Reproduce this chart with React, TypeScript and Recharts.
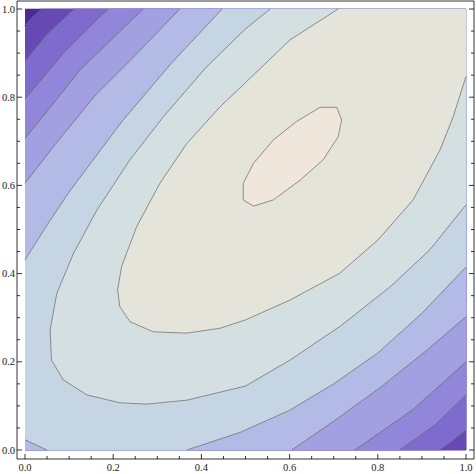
import React from 'react';
import { ScatterChart, Scatter, XAxis, YAxis } from 'recharts';

type P = { x: number; y: number };

// frame ticks
const ALL_TICKS = [0, 0.05, 0.1, 0.15, 0.2, 0.25, 0.3, 0.35, 0.4, 0.45, 0.5, 0.55, 0.6, 0.65, 0.7, 0.75, 0.8, 0.85, 0.9, 0.95, 1];
const MAJOR_TICKS = [0, 0.2, 0.4, 0.6, 0.8, 1];
const TICK_LABELS = ['0.0', '0.2', '0.4', '0.6', '0.8', '1.0'];

// band colours, lowest level (dark purple) to highest (cream)
const BAND_COLORS = ['#4c2b91', '#6649b3', '#7f6bcd', '#9286da', '#a2a0e1', '#b3bae5', '#c5d5e4', '#d4dfe1', '#e5e4da', '#efe7db'];

// contour lines (TL = top-left corner, BR = bottom-right, BL = bottom-left)
const L1_TL: P[] = [{ x: 0, y: 0.963 }, { x: 0.018, y: 0.983 }, { x: 0.038, y: 1 }];
const L2_TL: P[] = [{ x: 0, y: 0.882 }, { x: 0.05, y: 0.943 }, { x: 0.111, y: 1 }];
const L2_BR: P[] = [{ x: 0.941, y: 0 }, { x: 0.97, y: 0.021 }, { x: 1, y: 0.045 }];
const L3_TL: P[] = [{ x: 0, y: 0.796 }, { x: 0.09, y: 0.903 }, { x: 0.188, y: 1 }];
const L3_BR: P[] = [{ x: 0.85, y: 0 }, { x: 0.93, y: 0.057 }, { x: 1, y: 0.125 }];
const L4_TL: P[] = [{ x: 0, y: 0.707 }, { x: 0.06, y: 0.78 }, { x: 0.125, y: 0.862 }, { x: 0.268, y: 1 }];
const L4_BR: P[] = [{ x: 0.748, y: 0 }, { x: 0.88, y: 0.092 }, { x: 1, y: 0.2 }];
const L5_TL: P[] = [{ x: 0, y: 0.605 }, { x: 0.07, y: 0.695 }, { x: 0.16, y: 0.805 }, { x: 0.25, y: 0.895 }, { x: 0.351, y: 1 }];
const L5_BR: P[] = [{ x: 0.605, y: 0 }, { x: 0.7, y: 0.065 }, { x: 0.81, y: 0.145 }, { x: 0.91, y: 0.225 }, { x: 1, y: 0.302 }];
const L6_TL: P[] = [{ x: 0, y: 0.431 }, { x: 0.05, y: 0.51 }, { x: 0.1, y: 0.585 }, { x: 0.22, y: 0.745 }, { x: 0.33, y: 0.875 }, { x: 0.447, y: 1 }];
const L6_BL: P[] = [{ x: 0, y: 0.023 }, { x: 0.05, y: 0 }];
const L6_BR: P[] = [
  { x: 0.367, y: 0 }, { x: 0.488, y: 0.04 }, { x: 0.6, y: 0.09 }, { x: 0.7, y: 0.15 },
  { x: 0.8, y: 0.22 }, { x: 0.9, y: 0.31 }, { x: 1, y: 0.415 },
];
const L7: P[] = [
  { x: 0.556, y: 1 }, { x: 0.5, y: 0.955 }, { x: 0.412, y: 0.869 }, { x: 0.314, y: 0.756 },
  { x: 0.238, y: 0.658 }, { x: 0.163, y: 0.544 }, { x: 0.11, y: 0.446 }, { x: 0.072, y: 0.355 },
  { x: 0.057, y: 0.272 }, { x: 0.06, y: 0.204 }, { x: 0.087, y: 0.159 }, { x: 0.14, y: 0.125 },
  { x: 0.215, y: 0.107 }, { x: 0.276, y: 0.104 }, { x: 0.367, y: 0.113 }, { x: 0.5, y: 0.145 },
  { x: 0.601, y: 0.204 }, { x: 0.714, y: 0.28 }, { x: 0.828, y: 0.37 }, { x: 0.918, y: 0.454 },
  { x: 1, y: 0.556 },
];
const L8: P[] = [
  { x: 0.71, y: 1 }, { x: 0.601, y: 0.93 }, { x: 0.5, y: 0.833 }, { x: 0.442, y: 0.778 },
  { x: 0.367, y: 0.695 }, { x: 0.306, y: 0.605 }, { x: 0.253, y: 0.506 }, { x: 0.219, y: 0.416 },
  { x: 0.21, y: 0.363 }, { x: 0.215, y: 0.325 }, { x: 0.238, y: 0.291 }, { x: 0.291, y: 0.268 },
  { x: 0.367, y: 0.265 }, { x: 0.442, y: 0.276 }, { x: 0.5, y: 0.295 }, { x: 0.601, y: 0.34 },
  { x: 0.714, y: 0.401 }, { x: 0.8, y: 0.476 }, { x: 0.88, y: 0.567 }, { x: 0.941, y: 0.68 },
  { x: 0.971, y: 0.756 }, { x: 1, y: 0.847 },
];
const L9: P[] = [
  { x: 0.669, y: 0.777 }, { x: 0.707, y: 0.777 }, { x: 0.718, y: 0.748 }, { x: 0.71, y: 0.71 },
  { x: 0.676, y: 0.658 }, { x: 0.624, y: 0.612 }, { x: 0.563, y: 0.567 }, { x: 0.518, y: 0.553 },
  { x: 0.495, y: 0.567 }, { x: 0.495, y: 0.605 }, { x: 0.518, y: 0.65 }, { x: 0.563, y: 0.703 },
  { x: 0.616, y: 0.745 },
];

const rev = (a: P[]) => [...a].reverse();
const BL: P = { x: 0, y: 0 };
const BRc: P = { x: 1, y: 0 };
const TR: P = { x: 1, y: 1 };
const TLc: P = { x: 0, y: 1 };

// filled regions, painted from lowest level up
const FILLS: P[][] = [
  [BL, BRc, TR, TLc],
  [BL, BRc, TR, ...rev(L1_TL)],
  [BL, ...L2_BR, TR, ...rev(L2_TL)],
  [BL, ...L3_BR, TR, ...rev(L3_TL)],
  [BL, ...L4_BR, TR, ...rev(L4_TL)],
  [BL, ...L5_BR, TR, ...rev(L5_TL)],
  [...L6_BL, ...L6_BR, TR, ...rev(L6_TL)],
  [...L7, TR],
  [...L8, TR],
  L9,
];

const LINES: P[][] = [
  L1_TL, L2_TL, L2_BR, L3_TL, L3_BR, L4_TL, L4_BR, L5_TL, L5_BR,
  L6_TL, L6_BL, L6_BR, L7, L8, [...L9, L9[0]],
];

const X_DOMAIN: [number, number] = [-8 / 441, 1 + 8 / 441];
const Y_DOMAIN: [number, number] = [-9 / 441, 1 + 8 / 441];

const FONT = '"Liberation Serif", "DejaVu Serif", serif';

const FrameTick = (props: any) => {
  const { x, y, payload, side } = props;
  const v = payload.value;
  const idx = MAJOR_TICKS.findIndex((m) => Math.abs(m - v) < 1e-6);
  const len = idx >= 0 ? 5 : 3;
  const label = idx >= 0 ? TICK_LABELS[idx] : '';
  if (side === 'bottom') {
    return (
      <g>
        <line x1={x} y1={y} x2={x} y2={y - len} stroke="#000" strokeWidth={0.8} />
        {label && (
          <text x={x} y={y + 12} textAnchor="middle" fontSize={10.5} fontFamily={FONT} fill="#222">
            {label}
          </text>
        )}
      </g>
    );
  }
  if (side === 'top') {
    return <line x1={x} y1={y} x2={x} y2={y + len} stroke="#000" strokeWidth={0.8} />;
  }
  if (side === 'left') {
    return (
      <g>
        <line x1={x} y1={y} x2={x + len} y2={y} stroke="#000" strokeWidth={0.8} />
        {label && (
          <text x={x - 2} y={y + 3.5} textAnchor="end" fontSize={10.5} fontFamily={FONT} fill="#222">
            {label}
          </text>
        )}
      </g>
    );
  }
  return <line x1={x} y1={y} x2={x - len} y2={y} stroke="#000" strokeWidth={0.8} />;
};

const NoDot = () => <g />;

export default function App() {
  return (
    <div style={{ position: 'absolute', left: 0, top: 0, background: '#fff' }}>
      <ScatterChart width={476} height={474} margin={{ top: 0, right: 0, bottom: 0, left: 0 }}>
        <XAxis
          xAxisId="b"
          dataKey="x"
          type="number"
          orientation="bottom"
          domain={X_DOMAIN}
          allowDataOverflow
          ticks={ALL_TICKS}
          interval={0}
          height={15}
          tickSize={0}
          tickMargin={0}
          tickLine={false}
          axisLine={{ stroke: '#000', strokeWidth: 0.8 }}
          tick={(p: any) => <FrameTick {...p} side="bottom" />}
        />
        <XAxis
          xAxisId="t"
          type="number"
          orientation="top"
          domain={X_DOMAIN}
          allowDataOverflow
          ticks={ALL_TICKS}
          interval={0}
          height={1}
          tickSize={0}
          tickMargin={0}
          tickLine={false}
          axisLine={{ stroke: '#000', strokeWidth: 0.8 }}
          tick={(p: any) => <FrameTick {...p} side="top" />}
        />
        <YAxis
          yAxisId="l"
          dataKey="y"
          type="number"
          orientation="left"
          domain={Y_DOMAIN}
          allowDataOverflow
          ticks={ALL_TICKS}
          interval={0}
          width={17}
          tickSize={0}
          tickMargin={0}
          tickLine={false}
          axisLine={{ stroke: '#000', strokeWidth: 0.8 }}
          tick={(p: any) => <FrameTick {...p} side="left" />}
        />
        <YAxis
          yAxisId="r"
          type="number"
          orientation="right"
          domain={Y_DOMAIN}
          allowDataOverflow
          ticks={ALL_TICKS}
          interval={0}
          width={2}
          tickSize={0}
          tickMargin={0}
          tickLine={false}
          axisLine={{ stroke: '#000', strokeWidth: 0.8 }}
          tick={(p: any) => <FrameTick {...p} side="right" />}
        />
        {FILLS.map((poly, i) => (
          <Scatter
            key={`fill-${i}`}
            xAxisId="b"
            yAxisId="l"
            data={poly}
            line={{ fill: BAND_COLORS[i], stroke: BAND_COLORS[i], strokeWidth: 0.6 }}
            shape={NoDot}
            isAnimationActive={false}
          />
        ))}
        {LINES.map((pts, i) => (
          <Scatter
            key={`line-${i}`}
            xAxisId="b"
            yAxisId="l"
            data={pts}
            line={{ fill: 'none', stroke: '#5f5f5f', strokeOpacity: 0.75, strokeWidth: 0.9 }}
            shape={NoDot}
            isAnimationActive={false}
          />
        ))}
      </ScatterChart>
    </div>
  );
}
